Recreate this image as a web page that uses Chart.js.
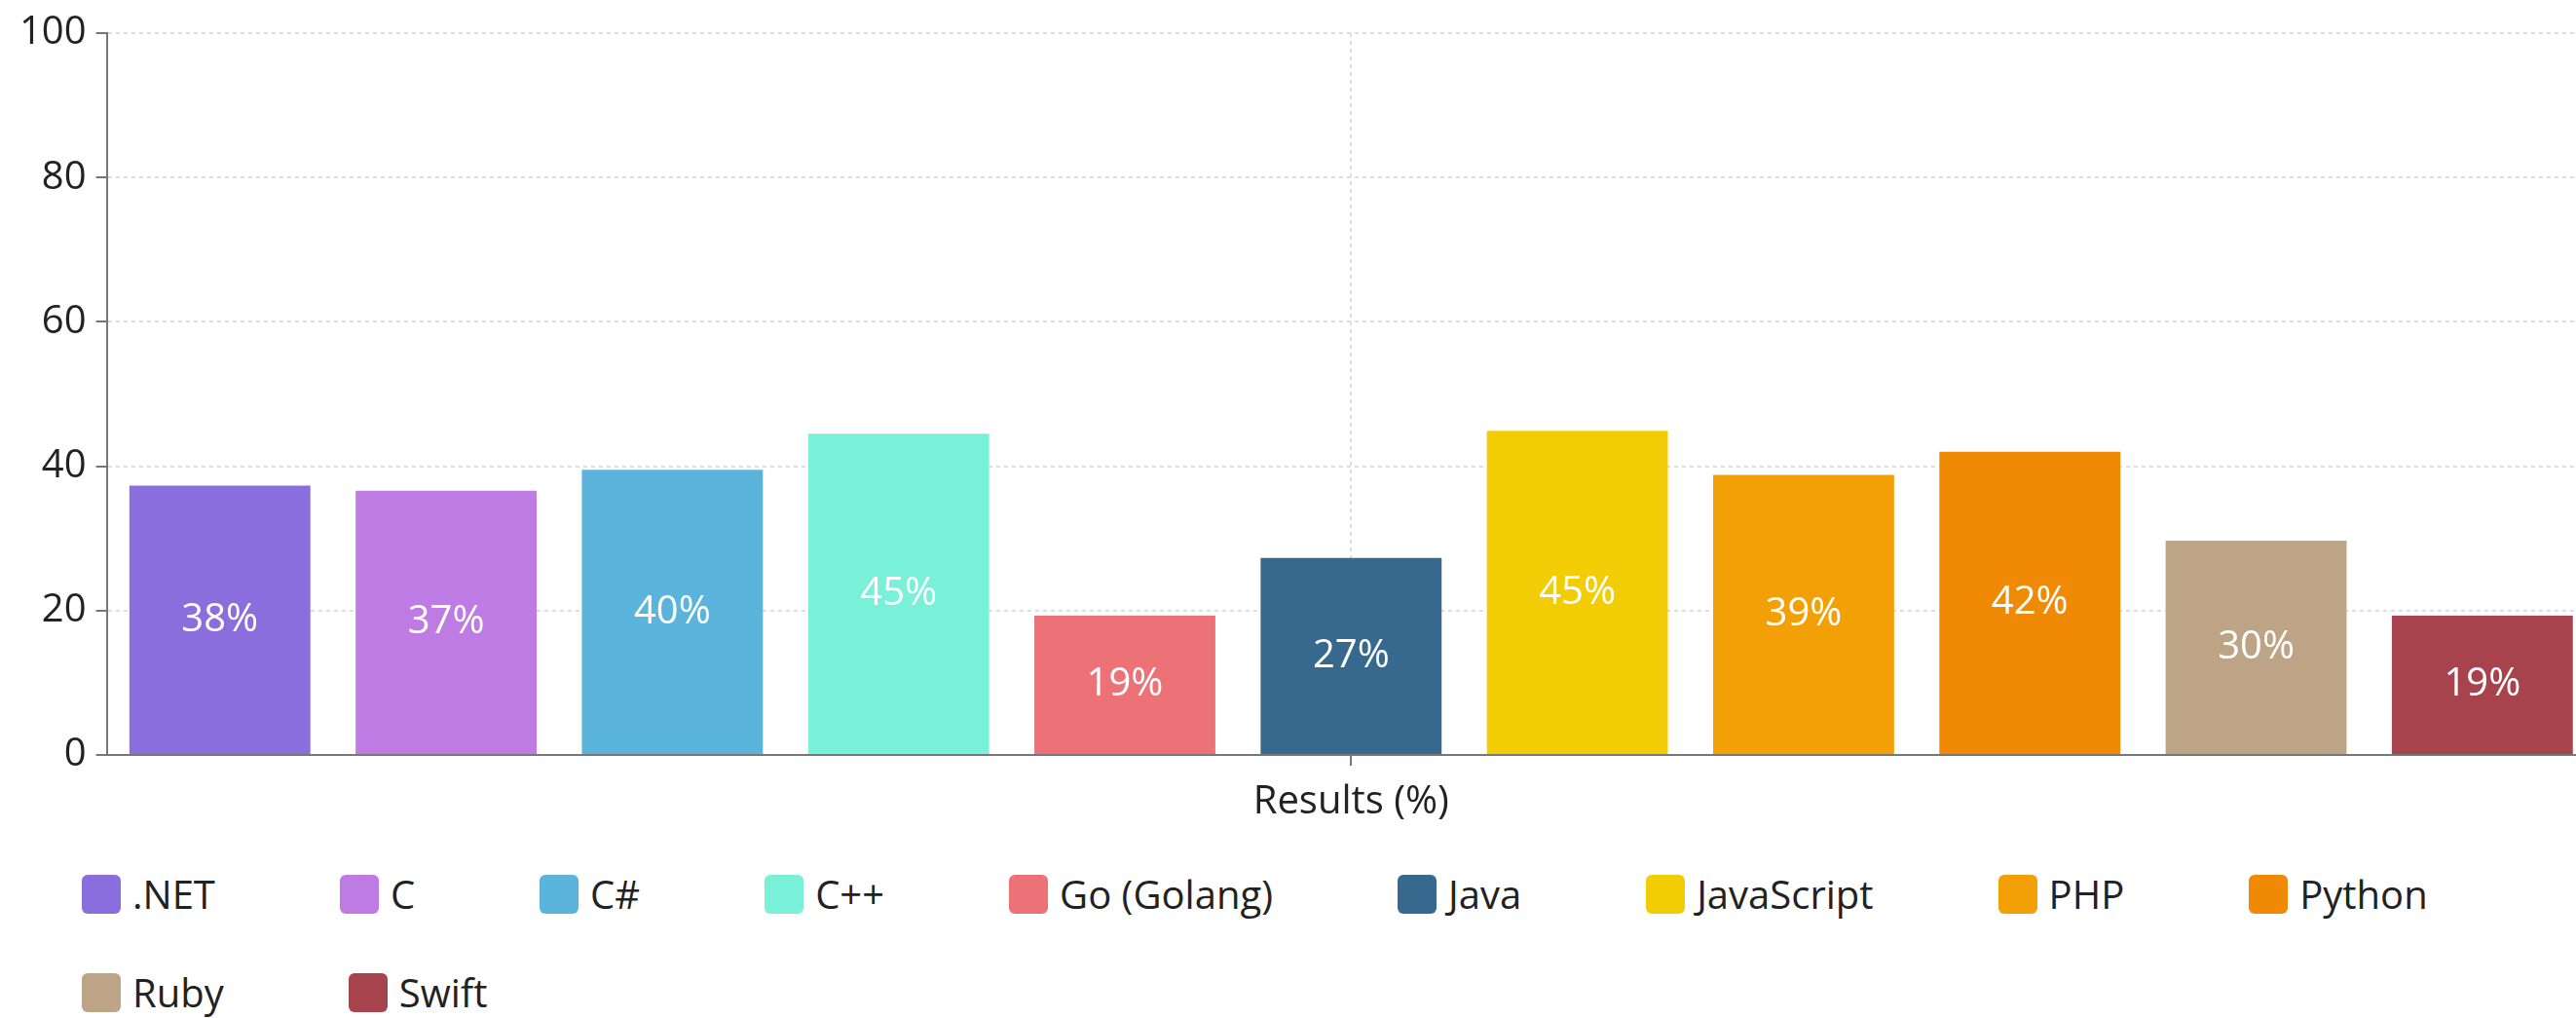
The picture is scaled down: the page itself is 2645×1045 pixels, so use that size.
<!DOCTYPE html>
<html>
<head>
<meta charset="utf-8">
<script src="https://cdn.jsdelivr.net/npm/chart.js@4.4.1/dist/chart.umd.min.js"></script>
<style>
  html, body { margin: 0; padding: 0; background: #fff; overflow: hidden; }
  #wrap { position: relative; width: 2645px; height: 1045px; overflow: hidden; }
  #grafico { display: block; }
  #legenda {
    display: flex; flex-wrap: wrap; gap: 61px 128px;
    padding: 22px 0 0 84px; width: 2645px; box-sizing: border-box;
    font-family: 'Open Sans', sans-serif; font-size: 40px; color: #222;
  }
  .item { display: flex; align-items: center; height: 40px; line-height: 40px; }
  .caixa { width: 40px; height: 40px; border-radius: 6px; margin-right: 12px; }
</style>
</head>
<body>
<div id="wrap">
  <canvas id="grafico" width="2665" height="876"></canvas>
  <div id="legenda"></div>
</div>
<script>
const categorias = ['Results (%)'];
const linguagens = ['.NET', 'C', 'C#', 'C++', 'Go (Golang)', 'Java', 'JavaScript', 'PHP', 'Python', 'Ruby', 'Swift'];
const valores = [37.3, 36.6, 39.5, 44.5, 19.3, 27.3, 44.9, 38.8, 42.0, 29.7, 19.3];
const rotulos = ['38%', '37%', '40%', '45%', '19%', '27%', '45%', '39%', '42%', '30%', '19%'];
const cores = ['#8a6edd', '#bf7be4', '#5ab4db', '#79f0d8', '#ec7278', '#37688d', '#f2cd05', '#f3a007', '#f08a05', '#bda486', '#a6434c'];
const ticksY = [0, 20, 40, 60, 80, 100];

Chart.defaults.font.family = "'Open Sans', sans-serif";
Chart.defaults.font.size = 40;
Chart.defaults.color = '#222';

// escreve o valor no meio de cada barra
const rotulosBarras = {
    id: 'rotulosBarras',
    afterDatasetsDraw(chart) {
        const ctx = chart.ctx;
        ctx.save();
        ctx.fillStyle = '#fff';
        ctx.font = "40px 'Open Sans', sans-serif";
        ctx.textAlign = 'center';
        ctx.textBaseline = 'middle';
        chart.data.datasets.forEach((ds, i) => {
            const bar = chart.getDatasetMeta(i).data[0];
            ctx.fillText(rotulos[i], bar.x, (bar.y + bar.base) / 2);
        });
        ctx.restore();
    }
};

const ctx = document.getElementById('grafico').getContext('2d');
const grafico = new Chart(ctx, {
    type: 'bar',
    data: {
        labels: categorias,
        datasets: linguagens.map((nome, i) => ({
            label: nome,
            data: [valores[i]],
            backgroundColor: cores[i],
            barPercentage: 0.8,
            categoryPercentage: 1.0
        }))
    },
    options: {
        responsive: false,
        animation: false,
        layout: { padding: { left: 10, top: 16, right: 0, bottom: 14 } },
        plugins: { legend: { display: false }, tooltip: { enabled: false } },
        scales: {
            x: {
                grid: { offset: false, color: '#dddddd', lineWidth: 2, tickLength: 11, tickColor: '#777', tickWidth: 2 },
                border: { color: '#777', width: 2, dash: [4, 4] },
                ticks: { padding: 14, color: '#222' }
            },
            y: {
                min: 0,
                max: 100,
                afterBuildTicks: axis => { axis.ticks = ticksY.map(v => ({ value: v })); },
                grid: { color: '#dddddd', lineWidth: 2, tickLength: 11, tickColor: '#777', tickWidth: 2 },
                border: { color: '#777', width: 2, dash: [4, 4] },
                ticks: { padding: 10, color: '#222' }
            }
        }
    },
    plugins: [rotulosBarras]
});

// legenda em html
const leg = document.getElementById('legenda');
linguagens.forEach((nome, i) => {
    const div = document.createElement('div');
    div.className = 'item';
    div.innerHTML = `<span class="caixa" style="background:${cores[i]}"></span><span>${nome}</span>`;
    leg.appendChild(div);
});
</script>
</body>
</html>
